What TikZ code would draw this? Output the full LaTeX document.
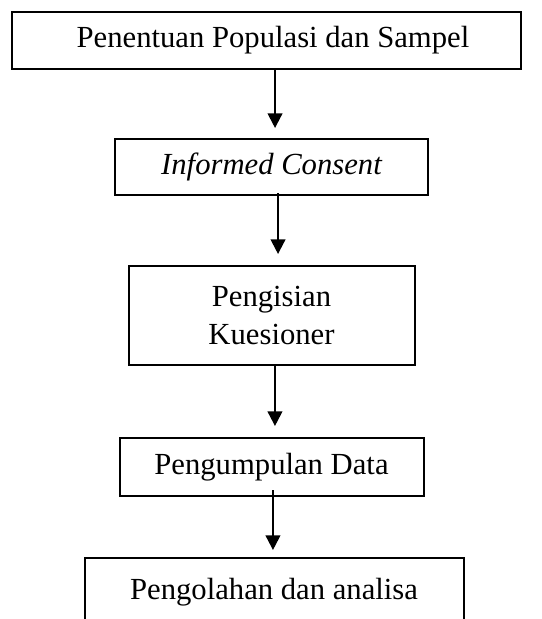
\documentclass[tikz,border=0pt]{standalone}
\usepackage{fontspec}
\setmainfont{Liberation Serif}
\usepackage{tikz}
\usetikzlibrary{arrows.meta,positioning}

\begin{document}
\begin{tikzpicture}[
  >={Triangle[width=11pt,length=11pt]},
  font=\fontsize{23}{29}\selectfont,
  box/.style={draw, line width=1.5pt, align=center, inner sep=4pt, outer sep=0pt},
  arr/.style={->, line width=1.5pt},
  node distance=52.5pt,
]
  \useasboundingbox (0,0) rectangle (406.5pt,-464.25pt);
  \clip (0,0) rectangle (406.5pt,-464.25pt);

  \node[box, minimum width=381.75pt, minimum height=42.75pt]
    (pop) at (199.875pt,-30.375pt) {\hspace*{9.75pt}Penentuan Populasi dan Sampel};
  \node[box, minimum width=234.75pt, minimum height=42pt,
        below=52.5pt of pop, xshift=3.75pt] (ic) {\itshape Informed Consent};
  \node[box, minimum width=214.5pt, minimum height=74.25pt,
        below=53.25pt of ic] (kue) {Pengisian\\Kuesioner};
  \node[box, minimum width=228pt, minimum height=43.5pt,
        below=54.75pt of kue] (data) {Pengumpulan Data};
  \node[box, minimum width=284.25pt, text height=27pt, text depth=60pt,
        below=46.5pt of data, xshift=1.9pt] (olah) {Pengolahan dan analisa};

  % arrows between the steps
  \draw[arr, shorten >=8.25pt]
    ([xshift=6.4pt]pop.south) -- ([xshift=6.4pt]pop.south |- ic.north);
  \draw[arr, shorten <=-1.5pt, shorten >=9pt]
    ([xshift=4.9pt]ic.south) -- ([xshift=4.9pt]ic.south |- kue.north);
  \draw[arr, shorten >=9pt]
    ([xshift=2.6pt]kue.south) -- ([xshift=2.6pt]kue.south |- data.north);
  \draw[arr, shorten <=-4.5pt, shorten >=6pt]
    ([xshift=1.1pt]data.south) -- ([xshift=1.1pt]data.south |- olah.north);
\end{tikzpicture}
\end{document}
